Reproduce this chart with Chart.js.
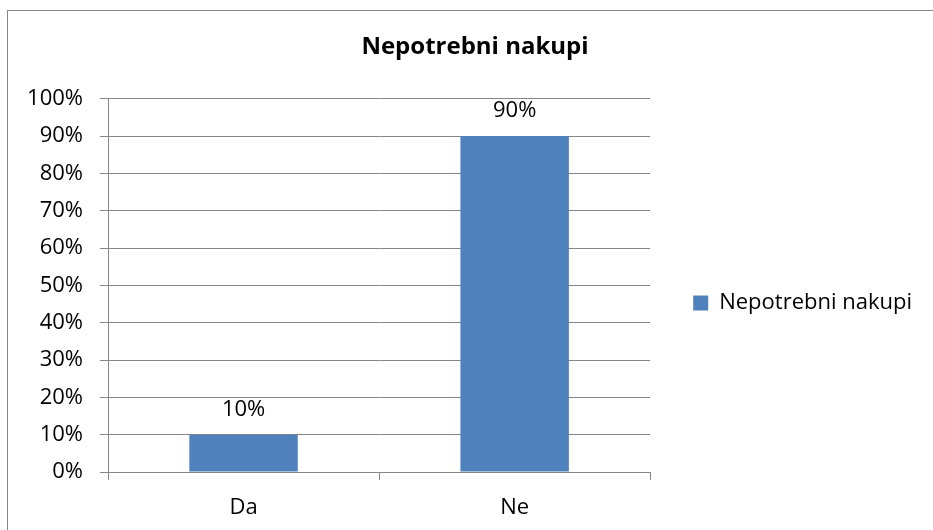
<!DOCTYPE html>
<html>
<head>
<meta charset="utf-8">
<script src="https://cdn.jsdelivr.net/npm/chart.js@4/dist/chart.umd.min.js"></script>
<style>
    body { margin: 0; background: #fff; }
    #wrap { position: relative; width: 933px; height: 530px; overflow: hidden; }
    #frame { position: absolute; left: 7px; top: 10px; width: 960px; height: 560px;
             border-left: 1px solid #868686; border-top: 1px solid #868686; }
    #chart { position: absolute; left: 0; top: 0; }
</style>
</head>
<body>
<div id="wrap">
    <div id="frame"></div>
    <canvas id="chart" width="933" height="530"></canvas>
</div>
<script>
var chartTitle = 'Nepotrebni nakupi';
var categories = ['Da', 'Ne'];
var seriesName = 'Nepotrebni nakupi';
var seriesValues = [10, 90];
var yTicks = [0, 10, 20, 30, 40, 50, 60, 70, 80, 90, 100];

document.addEventListener("DOMContentLoaded", () => {
    var gray = '#868686';
    Chart.defaults.font.family = "'Open Sans', sans-serif";
    Chart.defaults.font.size = 22;
    Chart.defaults.color = '#000';

    // nudge title / legend to where Excel puts them
    var placeBoxes = {
        id: 'placeBoxes',
        afterLayout(chart) {
            chart.titleBlock.left += 14;
            chart.titleBlock.right += 14;
            chart.legend.top += 33;
            chart.legend.bottom += 33;
        }
    };

    // value labels above each bar
    var barLabels = {
        id: 'barLabels',
        afterDatasetsDraw(chart) {
            var ctx = chart.ctx;
            ctx.save();
            ctx.font = "22px 'Open Sans', sans-serif";
            ctx.fillStyle = '#000';
            ctx.textAlign = 'center';
            ctx.textBaseline = 'middle';
            chart.getDatasetMeta(0).data.forEach((bar, i) => {
                ctx.fillText(seriesValues[i] + '%', bar.x, bar.y - 25);
            });
            ctx.restore();
        }
    };

    new Chart(document.getElementById('chart').getContext('2d'), {
        type: 'bar',
        data: {
            labels: categories,
            datasets: [{
                label: seriesName,
                data: seriesValues,
                backgroundColor: '#4f81bd',
                borderWidth: 0,
                barPercentage: 0.5,
                categoryPercentage: 0.8
            }]
        },
        options: {
            responsive: false,
            animation: false,
            layout: { padding: { top: 10, right: 11, bottom: 0, left: 0 } },
            plugins: {
                title: {
                    display: true,
                    text: chartTitle,
                    font: { size: 24, weight: 'bold' },
                    color: '#000',
                    padding: { top: 23, bottom: 37 }
                },
                legend: {
                    position: 'right',
                    maxWidth: 320,
                    labels: {
                        boxWidth: 15,
                        boxHeight: 15,
                        padding: 43,
                        font: { size: 22 }
                    }
                },
                tooltip: { enabled: false }
            },
            scales: {
                x: {
                    afterFit: s => { s.height = 58; },
                    grid: { drawOnChartArea: false, color: gray, tickLength: 8 },
                    border: { color: gray },
                    ticks: { padding: 15 }
                },
                y: {
                    min: 0,
                    max: 100,
                    afterFit: s => { s.width = 108; },
                    afterBuildTicks: s => { s.ticks = yTicks.map(v => ({ value: v })); },
                    grid: { color: gray, tickLength: 8 },
                    border: { color: gray },
                    ticks: { padding: 17, callback: v => v + '%' }
                }
            }
        },
        plugins: [placeBoxes, barLabels]
    });
});
</script>
</body>
</html>
